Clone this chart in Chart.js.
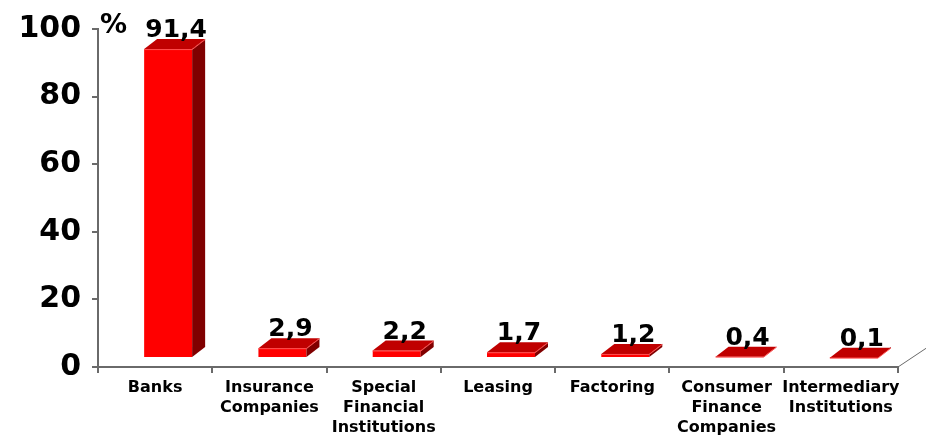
<!DOCTYPE html>
<html lang="en">
<head>
<meta charset="UTF-8">
<title>Financial Sector Asset Shares</title>
<script src="https://cdn.jsdelivr.net/npm/chart.js"></script>
<style>
  body { margin: 0; padding: 0; background: #fff; }
  #wrap { width: 926px; height: 435px; }
</style>
</head>
<body>
<div id="wrap"><canvas id="shareChart" width="926" height="435"></canvas></div>
<script>
const categories = [
  ['Banks'],
  ['Insurance', 'Companies'],
  ['Special', 'Financial', 'Institutions'],
  ['Leasing'],
  ['Factoring'],
  ['Consumer', 'Finance', 'Companies'],
  ['Intermediary', 'Institutions']
];
const shares = [91.4, 2.9, 2.2, 1.7, 1.2, 0.4, 0.1];
const yTicks = [0, 20, 40, 60, 80, 100];
const unitLabel = '%';

// fake 3D: bars sit half way into the floor, plus a side/top face
const SHIFT_X = 13, SHIFT_Y = 9;
const DEPTH_X = 13, DEPTH_Y = 10;
const AXIS_COLOR = '#6a6a6a';

const bars3d = {
  id: 'bars3d',
  beforeDatasetsDraw(chart) {
    chart.ctx.save();
    chart.ctx.translate(SHIFT_X, -SHIFT_Y);
  },
  afterDatasetsDraw(chart) {
    const ctx = chart.ctx;
    const meta = chart.getDatasetMeta(0);
    meta.data.forEach((bar, i) => {
      const left = bar.x - bar.width / 2;
      const right = bar.x + bar.width / 2;
      const top = bar.y, base = bar.base;

      ctx.fillStyle = '#800000';
      ctx.beginPath();
      ctx.moveTo(right, top);
      ctx.lineTo(right + DEPTH_X, top - DEPTH_Y);
      ctx.lineTo(right + DEPTH_X, base - DEPTH_Y);
      ctx.lineTo(right, base);
      ctx.closePath();
      ctx.fill();

      ctx.fillStyle = '#c00000';
      ctx.beginPath();
      ctx.moveTo(left, top);
      ctx.lineTo(left + DEPTH_X, top - DEPTH_Y);
      ctx.lineTo(right + DEPTH_X, top - DEPTH_Y);
      ctx.lineTo(right, top);
      ctx.closePath();
      ctx.fill();

      ctx.strokeStyle = '#ff5050';
      ctx.lineWidth = 1;
      ctx.beginPath();
      ctx.moveTo(left, top + 0.5);
      ctx.lineTo(right, top + 0.5);
      ctx.lineTo(right + DEPTH_X, top - DEPTH_Y + 0.5);
      ctx.stroke();

      ctx.fillStyle = '#000';
      ctx.font = 'bold 25px "DejaVu Sans"';
      ctx.textAlign = 'center';
      ctx.textBaseline = 'alphabetic';
      ctx.fillText(String(shares[i]).replace('.', ','), bar.x + 8, top - DEPTH_Y - 2);
    });
    ctx.restore();
  },
  afterDraw(chart) {
    const ctx = chart.ctx;
    const area = chart.chartArea;
    ctx.save();
    // floor edge going back on the right
    ctx.strokeStyle = AXIS_COLOR;
    ctx.lineWidth = 1;
    ctx.beginPath();
    ctx.moveTo(area.right, area.bottom);
    ctx.lineTo(area.right + 30, area.bottom - 20);
    ctx.stroke();
    // unit next to the top tick
    ctx.fillStyle = '#000';
    ctx.font = 'bold 27px "DejaVu Sans"';
    ctx.textAlign = 'left';
    ctx.textBaseline = 'alphabetic';
    ctx.fillText(unitLabel, area.left + 2, 33);
    ctx.restore();
  }
};

new Chart(document.getElementById('shareChart'), {
  type: 'bar',
  data: {
    labels: categories,
    datasets: [{
      data: shares,
      backgroundColor: '#ff0000',
      borderWidth: 0,
      categoryPercentage: 1,
      barPercentage: 0.42,
      clip: false
    }]
  },
  options: {
    responsive: false,
    devicePixelRatio: 1,
    animation: false,
    layout: { padding: { top: 25, right: 28, bottom: 0, left: 0 } },
    plugins: { legend: { display: false }, tooltip: { enabled: false } },
    scales: {
      x: {
        afterFit(scale) { scale.height = 68; },
        border: { color: AXIS_COLOR, width: 2 },
        grid: { drawOnChartArea: false, color: AXIS_COLOR, lineWidth: 2, tickLength: 6 },
        ticks: {
          color: '#000',
          padding: 5,
          maxRotation: 0,
          autoSkip: false,
          font: { family: 'DejaVu Sans', weight: 'bold', size: 16, lineHeight: 1.25 }
        }
      },
      y: {
        min: 0,
        max: 100,
        afterFit(scale) { scale.width = 98; },
        afterBuildTicks(scale) { scale.ticks = yTicks.map(v => ({ value: v })); },
        border: { color: AXIS_COLOR, width: 2 },
        grid: { drawOnChartArea: false, color: AXIS_COLOR, lineWidth: 2, tickLength: 6 },
        ticks: {
          color: '#000',
          padding: 11,
          font: { family: 'DejaVu Sans', weight: 'bold', size: 30 }
        }
      }
    }
  },
  plugins: [bars3d]
});
</script>
</body>
</html>
